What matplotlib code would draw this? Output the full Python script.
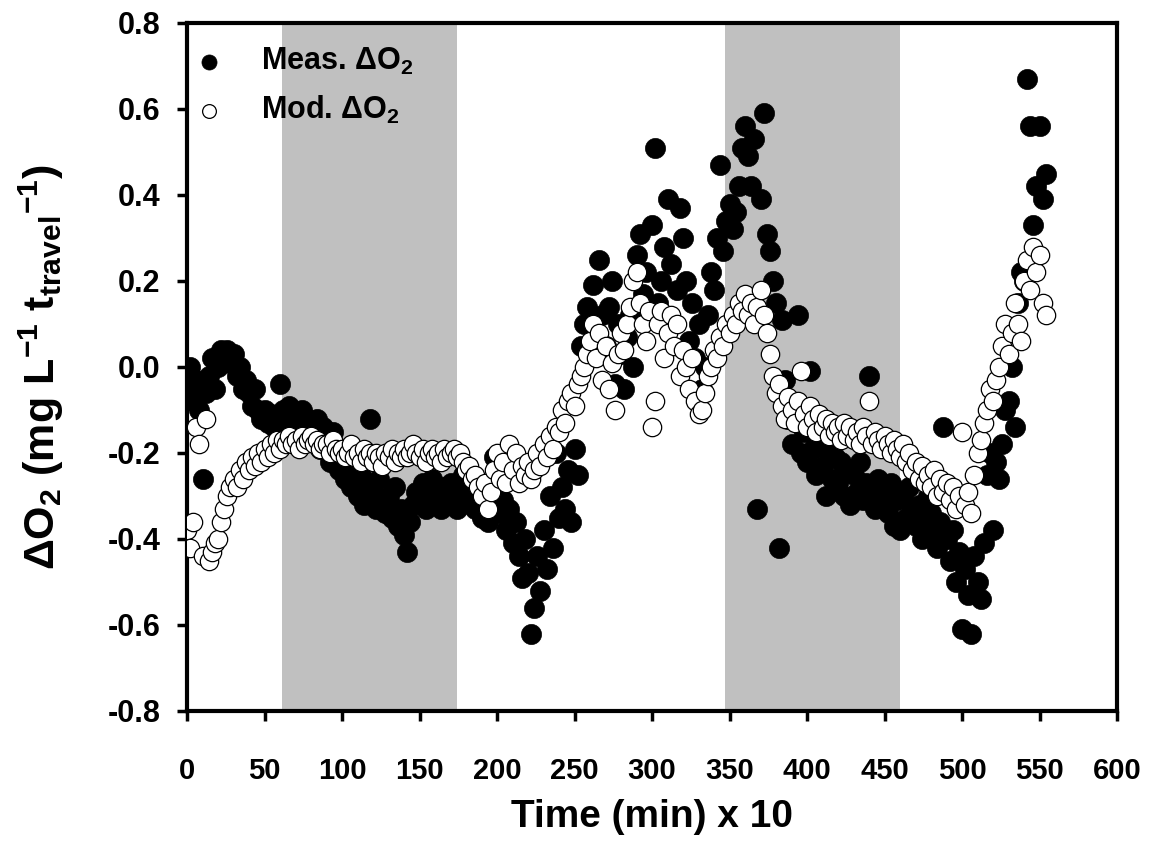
import numpy as np
import matplotlib
matplotlib.use("Agg")
import matplotlib.pyplot as plt

plt.rcParams['font.family'] = ['Liberation Sans', 'DejaVu Sans']
plt.rcParams['font.weight'] = 'bold'
plt.rcParams['axes.labelweight'] = 'bold'
plt.rcParams['mathtext.fontset'] = 'custom'
plt.rcParams['mathtext.rm'] = 'Liberation Sans:bold'
plt.rcParams['mathtext.it'] = 'Liberation Sans:bold'
plt.rcParams['mathtext.bf'] = 'Liberation Sans:bold'
plt.rcParams['mathtext.default'] = 'rm'
plt.rcParams['axes.unicode_minus'] = False

# time grid (min x 10), one sample every 2 units
time = np.arange(0, 556, 2)

# measured delta O2 (mg/L per travel time)
meas = [
    -0.05, 0.0, -0.08, -0.03, -0.10,
    -0.26, -0.06, -0.02, 0.02, -0.05,
    0.0, 0.04, 0.02, 0.04, 0.01,
    0.03, -0.02, 0.0, -0.05, -0.03,
    -0.06, -0.09, -0.05, -0.10, -0.12,
    -0.10, -0.13, -0.11, -0.14, -0.12,
    -0.04, -0.10, -0.12, -0.09, -0.13,
    -0.11, -0.14, -0.10, -0.15, -0.12,
    -0.13, -0.16, -0.12, -0.19, -0.14,
    -0.17, -0.22, -0.15, -0.20, -0.24,
    -0.21, -0.26, -0.19, -0.28, -0.24,
    -0.30, -0.25, -0.32, -0.27, -0.12,
    -0.29, -0.33, -0.26, -0.31, -0.34,
    -0.30, -0.35, -0.28, -0.37, -0.33,
    -0.39, -0.43, -0.36, -0.32, -0.29,
    -0.31, -0.27, -0.33, -0.30, -0.26,
    -0.32, -0.29, -0.33, -0.28, -0.31,
    -0.27, -0.30, -0.33, -0.28, -0.25,
    -0.30, -0.27, -0.31, -0.33, -0.28,
    -0.35, -0.32, -0.36, -0.30, -0.21,
    -0.28, -0.34, -0.31, -0.38, -0.33,
    -0.41, -0.36, -0.44, -0.49, -0.40,
    -0.48, -0.62, -0.56, -0.44, -0.52,
    -0.38, -0.47, -0.30, -0.42, -0.20,
    -0.35, -0.28, -0.33, -0.24, -0.36,
    -0.19, -0.25, 0.05, 0.10, 0.14,
    0.02, 0.19, 0.08, 0.25, 0.12,
    0.05, 0.14, 0.20, -0.04, 0.10,
    0.03, -0.05, 0.07, 0.12, 0.0,
    0.26, 0.31, 0.17, 0.22, 0.12,
    0.33, 0.51, 0.15, 0.20, 0.28,
    0.39, 0.24, 0.10, 0.18, 0.37,
    0.30, 0.20, 0.06, 0.15, 0.02,
    0.10, -0.05, 0.0, 0.12, 0.22,
    0.18, 0.30, 0.47, 0.27, 0.34,
    0.38, 0.32, 0.36, 0.42, 0.51,
    0.56, 0.49, 0.42, 0.53, -0.33,
    0.39, 0.59, 0.31, 0.27, 0.20,
    0.15, -0.42, 0.11, -0.03, -0.12,
    -0.18, -0.10, 0.12, -0.20, -0.15,
    -0.22, -0.01, -0.19, -0.25, -0.17,
    -0.23, -0.30, -0.20, -0.26, -0.21,
    -0.27, -0.22, -0.30, -0.24, -0.32,
    -0.25, -0.29, -0.22, -0.31, -0.27,
    -0.02, -0.28, -0.33, -0.26, -0.30,
    -0.28, -0.34, -0.27, -0.37, -0.31,
    -0.38, -0.30, -0.35, -0.28, -0.33,
    -0.37, -0.32, -0.40, -0.35, -0.30,
    -0.34, -0.38, -0.42, -0.36, -0.14,
    -0.40, -0.45, -0.38, -0.50, -0.43,
    -0.61, -0.47, -0.53, -0.62, -0.44,
    -0.50, -0.54, -0.41, -0.25, -0.20,
    -0.38, -0.22, -0.26, -0.18, -0.10,
    -0.08, 0.0, -0.14, 0.15, 0.22,
    0.20, 0.67, 0.56, 0.33, 0.42,
    0.56, 0.39, 0.45,
]

# modelled delta O2
mod = [
    -0.38, -0.42, -0.36, -0.14, -0.18,
    -0.44, -0.12, -0.45, -0.43, -0.41,
    -0.40, -0.36, -0.33, -0.30, -0.28,
    -0.26, -0.28, -0.24, -0.26, -0.22,
    -0.24, -0.21, -0.23, -0.20, -0.22,
    -0.19, -0.21, -0.18, -0.20, -0.17,
    -0.19, -0.17, -0.18, -0.16, -0.18,
    -0.17, -0.19, -0.16, -0.18, -0.17,
    -0.16, -0.18, -0.17, -0.19, -0.18,
    -0.18, -0.20, -0.17, -0.19, -0.20,
    -0.19, -0.21, -0.20, -0.18, -0.21,
    -0.20, -0.22, -0.19, -0.21, -0.20,
    -0.22, -0.20, -0.21, -0.23, -0.20,
    -0.21, -0.19, -0.22, -0.20, -0.21,
    -0.19, -0.21, -0.20, -0.18, -0.20,
    -0.21, -0.19, -0.22, -0.20, -0.19,
    -0.21, -0.20, -0.22, -0.19, -0.21,
    -0.20, -0.19, -0.21, -0.20, -0.22,
    -0.24, -0.23, -0.26, -0.25, -0.28,
    -0.30, -0.27, -0.33, -0.29, -0.24,
    -0.20, -0.26, -0.22, -0.27, -0.18,
    -0.24, -0.20, -0.27, -0.23, -0.25,
    -0.22, -0.26, -0.24, -0.20, -0.23,
    -0.18, -0.21, -0.16, -0.19, -0.14,
    -0.15, -0.10, -0.13, -0.08, -0.06,
    -0.09, -0.04, -0.02, 0.0, 0.03,
    0.06, 0.10, 0.02, 0.08, -0.03,
    0.05, -0.05, 0.01, -0.10, 0.03,
    0.08, 0.04, 0.10, 0.14, 0.20,
    0.22, 0.15, 0.10, 0.06, 0.13,
    -0.14, -0.08, 0.10, 0.13, 0.02,
    0.08, 0.12, 0.05, 0.10, -0.02,
    0.04, 0.0, -0.05, 0.02, -0.08,
    -0.11, -0.10, -0.06, -0.02, 0.0,
    0.04, 0.02, 0.07, 0.05, 0.10,
    0.08, 0.12, 0.10, 0.15, 0.13,
    0.17, 0.12, 0.15, 0.10, 0.14,
    0.18, 0.12, 0.08, 0.03, -0.02,
    -0.06, -0.04, -0.09, -0.12, -0.07,
    -0.10, -0.13, -0.08, -0.01, -0.11,
    -0.14, -0.09, -0.12, -0.15, -0.11,
    -0.14, -0.12, -0.16, -0.13, -0.15,
    -0.14, -0.17, -0.13, -0.16, -0.14,
    -0.17, -0.15, -0.18, -0.14, -0.16,
    -0.08, -0.18, -0.15, -0.17, -0.19,
    -0.16, -0.18, -0.20, -0.17, -0.19,
    -0.21, -0.18, -0.22, -0.20, -0.24,
    -0.22, -0.26, -0.23, -0.27, -0.25,
    -0.28, -0.24, -0.30, -0.26, -0.29,
    -0.27, -0.31, -0.28, -0.33, -0.30,
    -0.15, -0.32, -0.29, -0.34, -0.25,
    -0.20, -0.17, -0.13, -0.10, -0.05,
    -0.08, -0.03, 0.0, 0.05, 0.10,
    0.03, 0.08, 0.15, 0.10, 0.06,
    0.20, 0.25, 0.18, 0.28, 0.22,
    0.26, 0.15, 0.12,
]

# shaded periods
shade_spans = [(61, 174), (347, 460)]

yticks = [-0.8, -0.6, -0.4, -0.2, 0.0, 0.2, 0.4, 0.6, 0.8]

fig = plt.figure(figsize=(11.54, 8.61), dpi=100)
ax = fig.add_axes([187 / 1154, 1 - 711 / 861, 930 / 1154, 688 / 861])

for lo, hi in shade_spans:
    ax.axvspan(lo, hi, color='#c0c0c0', lw=0, zorder=0)

ax.scatter(time, meas, s=210, c='black', edgecolors='black', linewidths=0.5,
           label='Meas. ΔO$_2$', zorder=2)
ax.scatter(time, mod, s=175, c='white', edgecolors='black', linewidths=0.9,
           label='Mod. ΔO$_2$', zorder=3)

ax.set_xlim(0, 600)
ax.set_ylim(-0.8, 0.8)
ax.set_xticks(np.arange(0, 601, 50))
ax.set_yticks(yticks)
ax.set_yticklabels(['%.1f' % v for v in yticks])

for sp in ax.spines.values():
    sp.set_linewidth(3)
ax.tick_params(axis='both', direction='out', length=7, width=2.5, labelsize=21)
ax.tick_params(axis='y', labelsize=22, pad=12)
ax.tick_params(axis='x', pad=26)

ax.set_xlabel('Time (min) x 10', fontsize=28, fontweight='bold', labelpad=10)
ax.set_ylabel('ΔO$_2$ (mg L$^{-1}$ t$_{travel}$$^{-1}$)', fontsize=31,
              fontweight='bold', labelpad=30)

leg = ax.legend(loc='upper left', bbox_to_anchor=(-15 / 930, 1 - 2 / 688),
                frameon=False, fontsize=22, markerscale=0.75,
                handlelength=1.0, handletextpad=1.2, labelspacing=0.55,
                borderaxespad=0.3)

fig.savefig('out.png', dpi=100)
